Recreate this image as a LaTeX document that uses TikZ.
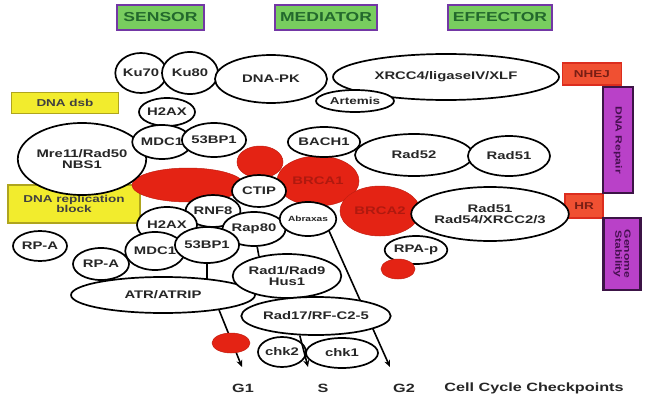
\documentclass[tikz,border=0pt]{standalone}
\usepackage{fontspec}
\setmainfont{Liberation Sans}[FakeStretch=1.35]
\usetikzlibrary{shapes.geometric,arrows.meta}
\pgfdeclarelayer{bg}
\pgfsetlayers{bg,main}

\definecolor{rolefill}{RGB}{120,205,95}
\definecolor{roleedge}{RGB}{115,55,165}
\definecolor{roletext}{RGB}{35,105,45}
\definecolor{cuefill}{RGB}{242,236,45}
\definecolor{cueedge}{RGB}{175,165,30}
\definecolor{routefill}{RGB}{240,80,50}
\definecolor{routeedge}{RGB}{220,45,30}
\definecolor{routetext}{RGB}{120,30,20}
\definecolor{outfill}{RGB}{185,65,200}
\definecolor{outedge}{RGB}{60,20,70}
\definecolor{outtext}{RGB}{70,15,80}
\definecolor{blobfill}{RGB}{228,35,20}
\definecolor{blobtext}{RGB}{175,25,15}

\begin{document}
\begin{tikzpicture}[x=1pt,y=-1pt,
  txt/.style={font=\fontsize{#1}{#1}\selectfont\bfseries},
  prot/.style={ellipse, draw=black, line width=1.7pt, fill=white, inner sep=0pt,
    align=center, text=black!85, txt=11},
  sz/.style 2 args={minimum width=#1pt, minimum height=#2pt},
  blob/.style={ellipse, fill=blobfill, draw=blobfill!85!black, line width=0.5pt,
    inner sep=0pt, text=blobtext, txt=11},
  role/.style={rectangle, draw=roleedge, line width=2.6pt, fill=rolefill,
    text=roletext, inner sep=0pt, txt=13},
  cue/.style={rectangle, draw=cueedge, line width=1.1pt, fill=cuefill,
    text=black!75, inner sep=0pt, align=center, txt=10},
  route/.style={rectangle, draw=routeedge, line width=1.4pt, fill=routefill,
    text=routetext, inner sep=0pt, txt=10},
  outcome/.style={rectangle, draw=outedge, line width=2.2pt, fill=outfill,
    text=outtext, inner sep=0pt, align=center, txt=9},
  axis/.style={text=black!85, inner sep=0pt, txt=12},
  link/.style={draw=black, line width=1.6pt},
  arr/.style={link, -{Stealth[length=7pt,width=6pt]}}]
\useasboundingbox (0,0) rectangle (654,399);

% role headings
\node[role, sz={87}{25}] (sensor) at (160.5,17.5) {SENSOR};
\node[role, sz={102}{25}] (mediator) at (326,17.5) {MEDIATOR};
\node[role, sz={104}{25}] (effector) at (500,17.5) {EFFECTOR};

% damage signals and outcomes
\node[cue, sz={107}{21}] (dsb) at (65,103) {DNA dsb};
\node[cue, sz={132}{38}] (repblock) at (74,204) {DNA replication\\block};
\node[route, sz={59}{22}] (nhej) at (592,74) {NHEJ};
\node[route, sz={38}{24}] (hr) at (584,206) {HR};
\node[outcome, rotate=-90, sz={106}{30}] (repair) at (618,140) {DNA Repair};
\node[outcome, rotate=-90, sz={72}{37}] (genome) at (622,254) {Genome\\Stability};

% BRCA1 complex (red)
\node[blob, sz={112}{34}] (redbar) at (188,185) {};
\node[blob, sz={46}{32}] (redcap) at (260,162) {};
\node[blob, sz={82}{50}] (brca1) at (318,181) {BRCA1};
\node[blob, sz={80}{50}] (brca2) at (380,211) {BRCA2};

% NHEJ branch
\node[prot, sz={44}{40}] (ku70) at (141,73) {Ku70};
\node[prot, sz={56}{42}] (ku80) at (190,73) {Ku80};
\node[prot, sz={112}{48}] (dnapk) at (271,79) {DNA-PK};
\node[prot, sz={226}{46}] (xrcc) at (446,77) {XRCC4/ligaseIV/XLF};
\node[prot, sz={78}{22}, txt=10] (artemis) at (355,101) {Artemis};

% dsb sensing
\node[prot, sz={46}{28}] (h2axa) at (167,112) {H2AX};
\node[prot, sz={116}{72}] (mrn) at (82,159) {Mre11/Rad50\\NBS1};
\node[prot, sz={50}{34}] (mdc1a) at (162,142) {MDC1};
\node[prot, sz={52}{34}] (bp1a) at (214,140) {53BP1};

% HR branch
\node[prot, sz={60}{30}] (bach1) at (324,142) {BACH1};
\node[prot, sz={118}{42}] (rad52) at (414,155) {Rad52};
\node[prot, sz={82}{40}] (rad51a) at (509,156) {Rad51};
\node[prot, sz={54}{32}] (ctip) at (259,191) {CTIP};
\node[prot, sz={50}{32}] (rnf8) at (213,211) {RNF8};
\node[prot, sz={60}{36}] (h2axb) at (167,225) {H2AX};
\node[prot, sz={58}{34}] (rap80) at (254,229) {Rap80};
\node[prot, sz={52}{34}, txt=7.5] (abraxas) at (308,219) {Abraxas};
\node[prot, sz={154}{54}] (rad51b) at (490,214) {Rad51\\Rad54/XRCC2/3};
\node[prot, sz={52}{28}] (rpap) at (416,250) {RPA-p};

% replication stress branch
\node[prot, sz={54}{30}] (rpa1) at (40,246) {RP-A};
\node[prot, sz={56}{32}] (rpa2) at (101,264) {RP-A};
\node[prot, sz={54}{38}] (mdc1b) at (155,251) {MDC1};
\node[prot, sz={52}{36}] (bp1b) at (207,245) {53BP1};
\node[prot, sz={184}{36}] (atr) at (163,295) {ATR/ATRIP};
\node[prot, sz={96}{44}] (rad1) at (287,276) {Rad1/Rad9\\Hus1};
\node[prot, sz={120}{38}] (rad17) at (316,316) {Rad17/RF-C2-5};
\node[blob, sz={38}{20}] (redg1) at (231,343) {};
\node[blob, sz={34}{20}] (redrpa) at (398,269) {};
\node[prot, sz={48}{30}] (chk2) at (282,352) {chk2};
\node[prot, sz={72}{30}] (chk1) at (342,353) {chk1};

% checkpoint labels
\node[axis] (g1) at (243,388) {G1};
\node[axis] (sphase) at (323,388) {S};
\node[axis] (g2) at (404,388) {G2};
\node[axis] (ccc) at (534,388) {Cell Cycle Checkpoints};

\coordinate (g1tip) at (242,367);
\coordinate (stip) at (308,367);
\coordinate (g2tip) at (390,367);

% signalling connectors, behind the protein ellipses
\begin{pgfonlayer}{bg}
\draw[link] (bp1b) -- (bp1b |- atr);
\draw[link] (rap80) -- (rad1.145);
\draw[arr] (abraxas.-30) -- (g2tip);
\draw[arr] (atr.-15) -- (g1tip);
\end{pgfonlayer}
\draw[arr] (rad17.-130) -- (stip);
\end{tikzpicture}
\end{document}
